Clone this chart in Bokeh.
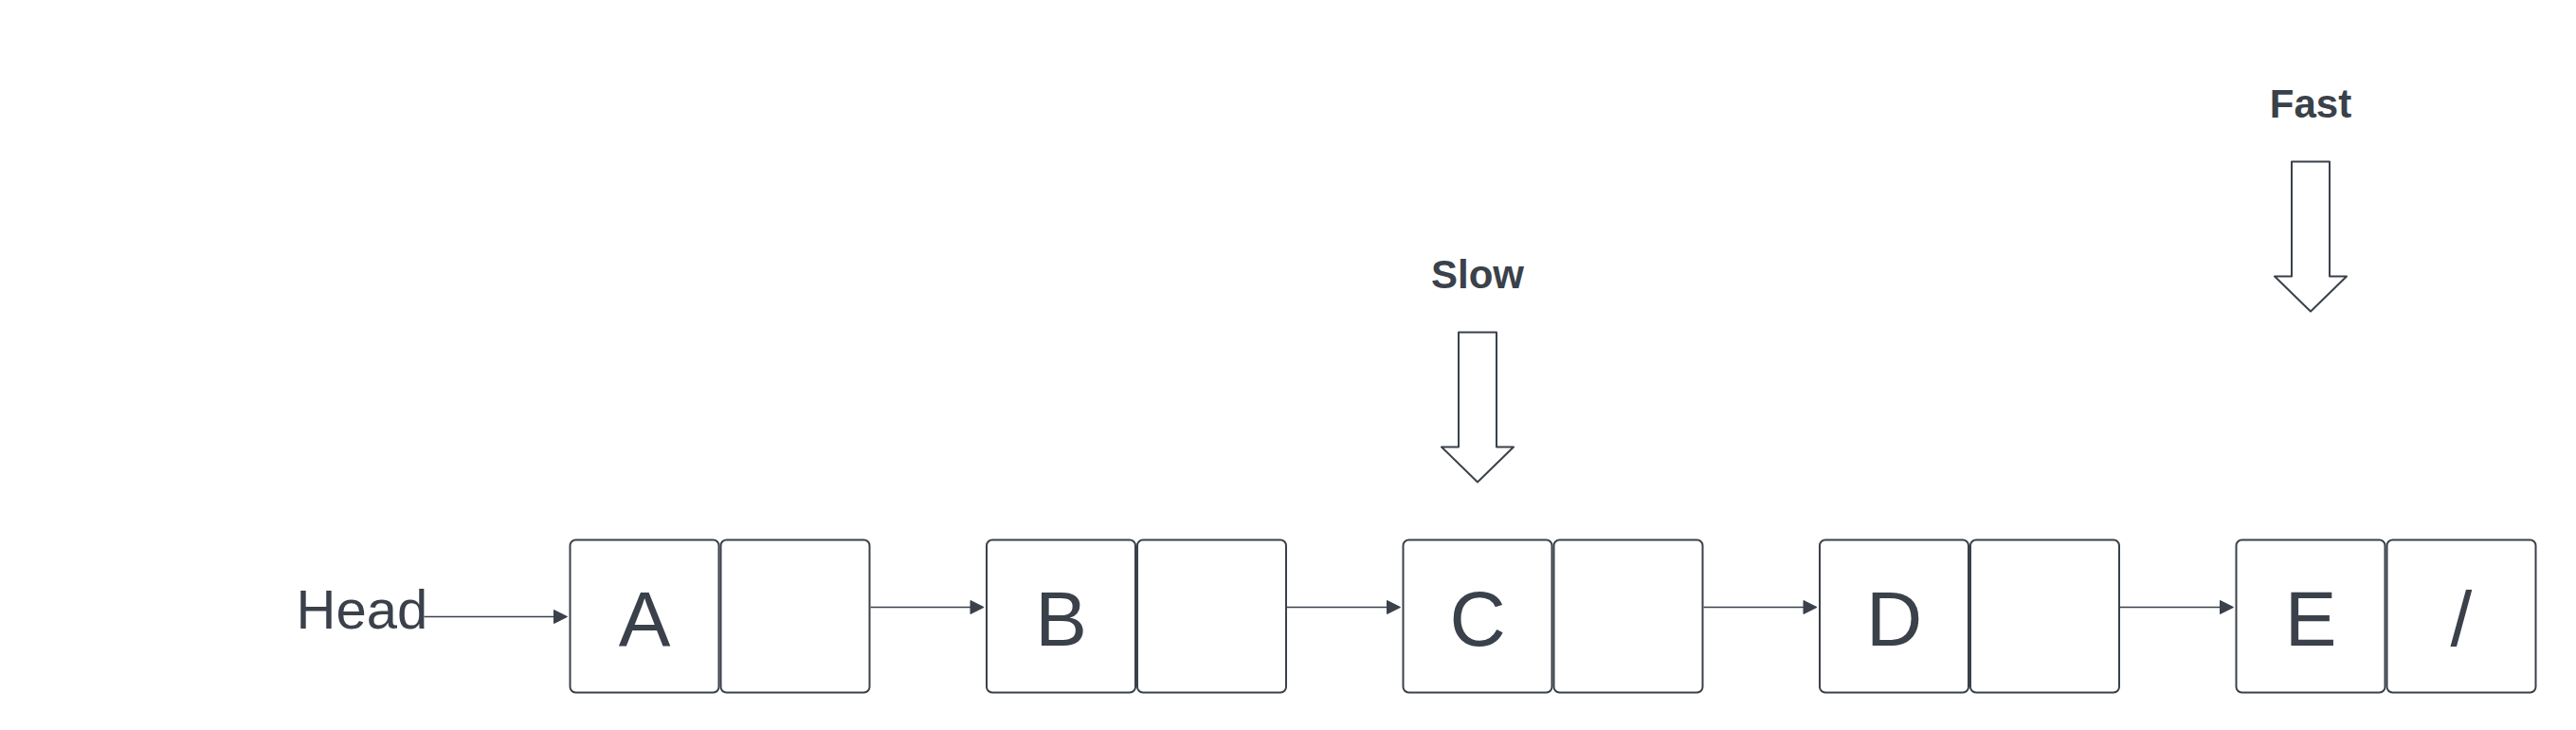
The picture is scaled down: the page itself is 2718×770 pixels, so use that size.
from bokeh.plotting import figure
from bokeh.embed import file_html
from bokeh.resources import INLINE
from bokeh.models import Range1d, Arrow, NormalHead
from bokeh.core.properties import value

# linked list nodes: value label, next-pointer label
node_labels = ["A", "B", "C", "D", "E"]
next_labels = ["", "", "", "", "/"]
# pointer names and the node index they point at
pointer_names = ["Slow", "Fast"]
pointer_nodes = [2, 4]
pointer_levels = [0, 1]  # Fast is drawn higher

W, H = 2702, 754
INK = "#3a414a"
FONT = value("Liberation Sans")

p = figure(width=W, height=H, output_backend="svg", toolbar_location=None,
           x_range=Range1d(0, W), y_range=Range1d(H, 0), min_border=0)
p.axis.visible = False
p.grid.visible = False
p.outline_line_color = None

x0, step, cell = 600, 439.5, 159
top, bot = 569, 730
mid = (top + bot) / 2

# boxes
for i, (lab, nxt) in enumerate(zip(node_labels, next_labels)):
    left = x0 + i * step
    for j, t in enumerate([lab, nxt]):
        cx = left + cell * j + cell / 2
        p.rect(cx, mid, cell - 2, bot - top, fill_color="white", line_color=INK,
               line_width=2, border_radius=6)
        if t:
            p.text([cx], [mid + 2], text=[t], text_align="center", text_baseline="middle",
                   text_font=FONT, text_font_size="82px", text_color=INK)
    # arrow to next node
    if i < len(node_labels) - 1:
        p.add_layout(Arrow(x_start=left + 2 * cell, y_start=640, x_end=left + step - 2, y_end=640,
                           line_color=INK, line_width=1.5,
                           end=NormalHead(size=14, fill_color=INK, line_color=INK)))

# head label and arrow
p.text([312], [642], text=["Head"], text_align="left", text_baseline="middle",
       text_font=FONT, text_font_size="58px", text_color=INK)
p.add_layout(Arrow(x_start=447, y_start=650, x_end=598, y_end=650, line_color=INK, line_width=1.5,
                   end=NormalHead(size=14, fill_color=INK, line_color=INK)))

# pointer arrows
for name, node, lvl in zip(pointer_names, pointer_nodes, pointer_levels):
    cx = x0 + node * step + cell / 2
    dy = -180 * lvl
    ytop, yshaft, ytip = 350 + dy, 471 + dy, 508 + dy
    xs = [cx - 20, cx + 20, cx + 20, cx + 38, cx, cx - 38, cx - 20]
    ys = [ytop, ytop, yshaft, yshaft, ytip, yshaft, yshaft]
    p.patch(xs, ys, fill_color="white", line_color=INK, line_width=2, line_join="round")
    p.text([cx], [289 + dy], text=[name], text_align="center", text_baseline="middle",
           text_font=FONT, text_font_size="42px", text_font_style="bold", text_color=INK)

open("out.html", "w").write(file_html(p, INLINE))
